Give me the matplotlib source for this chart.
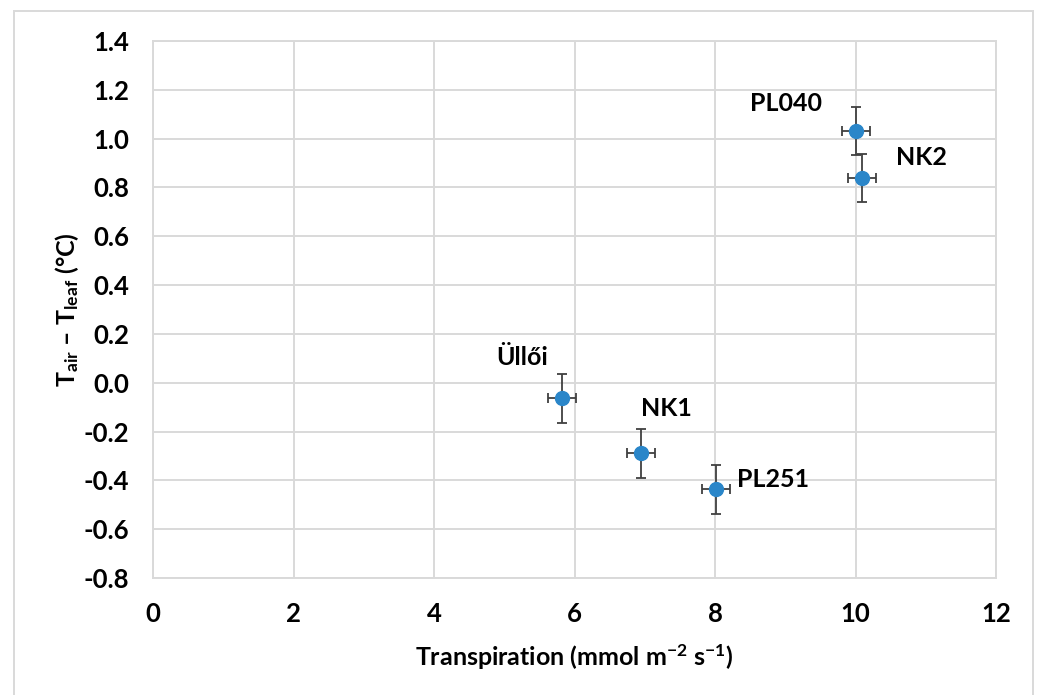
import matplotlib
matplotlib.use("Agg")
import matplotlib.pyplot as plt
from matplotlib.patches import Rectangle

plt.rcParams['font.family'] = ['Lato', 'DejaVu Sans']
plt.rcParams['mathtext.fontset'] = 'custom'
plt.rcParams['mathtext.rm'] = 'Lato'
plt.rcParams['mathtext.bf'] = 'Lato:bold'
plt.rcParams['mathtext.it'] = 'Lato:italic'

# data
names = ['Üllői', 'NK1', 'PL251', 'PL040', 'NK2']
transpiration = [5.82, 6.95, 8.02, 10.01, 10.09]
dT = [-0.063, -0.289, -0.436, 1.031, 0.839]
x_err = [0.2, 0.2, 0.2, 0.2, 0.2]
y_err = [0.1, 0.1, 0.1, 0.1, 0.1]

# label offsets (pixels) from each point
label_off = [(-40, 41), (25, 45), (57, 10), (-70, 28), (60, 20)]

x_ticks = [0, 2, 4, 6, 8, 10, 12]
y_ticks = [-0.8, -0.6, -0.4, -0.2, 0.0, 0.2, 0.4, 0.6, 0.8, 1.0, 1.2, 1.4]

fig = plt.figure(figsize=(10.4, 6.95), dpi=100)
ax = fig.add_axes([153 / 1040, 1 - 578 / 695, (996 - 153) / 1040, (578 - 41) / 695])

grid_c = '#d9d9d9'
ax.set_xlim(0, 12)
ax.set_ylim(-0.8, 1.4)
ax.set_xticks(x_ticks)
ax.set_yticks(y_ticks)
ax.set_yticklabels([f'{v:.1f}' for v in y_ticks])
ax.grid(True, color=grid_c, linewidth=1.4)
ax.set_axisbelow(True)
for s in ax.spines.values():
    s.set_color(grid_c)
    s.set_linewidth(1.4)
ax.tick_params(length=0, labelsize=18.5, pad=17)
for lab in ax.get_xticklabels() + ax.get_yticklabels():
    lab.set_fontweight('bold')

ax.errorbar(transpiration, dT, xerr=x_err, yerr=y_err, fmt='o', color='#2a86c9',
            markersize=10, ecolor='#404040', elinewidth=1.3, capsize=3.5,
            capthick=1.3, zorder=3)

for n, x, y, off in zip(names, transpiration, dT, label_off):
    ax.annotate(n, (x, y), xytext=off, textcoords='offset pixels',
                ha='center', va='center', fontsize=18, fontweight='bold')

ax.set_xlabel(r'Transpiration (mmol m$^{\mathbf{-2}}$ s$^{\mathbf{-1}}$)',
              fontsize=18, fontweight='bold', labelpad=12)
ax.set_ylabel(r'T$_{\mathbf{air}}$ – T$_{\mathbf{leaf}}$ (°C)',
              fontsize=18, fontweight='bold', labelpad=2)

fig.patches.append(Rectangle((14 / 1040, -0.05), (1033 - 14) / 1040, 1.05 - 11 / 695,
                             transform=fig.transFigure, fill=False,
                             edgecolor='#d9d9d9', linewidth=1.4))

fig.savefig('out.png', dpi=100)
